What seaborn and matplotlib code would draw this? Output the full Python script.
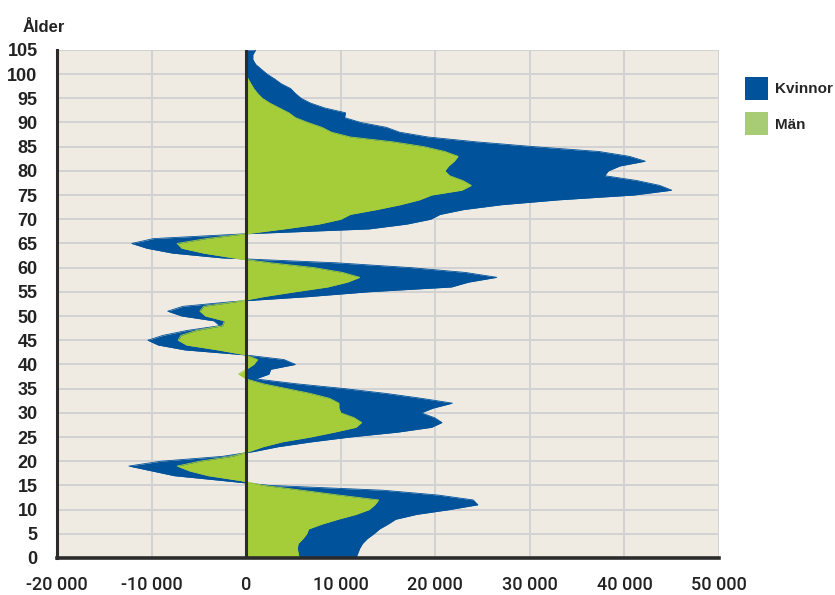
import numpy as np
import pandas as pd
import matplotlib
matplotlib.use("Agg")
import matplotlib.pyplot as plt
from matplotlib.patches import Patch
import seaborn as sns

# ------------------ Data ------------------
ages = list(range(0, 106))

man = [5600, 5500, 5400, 5500, 6000, 6400, 6600, 8000, 9700, 11600,
       13000, 13600, 14000, 9800, 5900, 1800, -600, -4000, -6000, -7300,
       -4900, -1500, 300, 1800, 3800, 6800, 9300, 11600, 12200, 11400,
       10000, 9800, 9800, 8800, 6800, 4300, 1800, 0, -800, 0,
       800, 1200, -100, -3000, -6300, -7200, -6900, -5300, -2500, -2300,
       -4300, -4900, -4500, -900, 1800, 5100, 8600, 10700, 12000, 10200,
       7200, 2600, -1300, -4500, -6800, -7300, -4200, 0, 4000, 7700,
       10000, 11000, 13800, 16300, 18300, 19600, 22800, 23800, 22900, 21500,
       21000, 21400, 22000, 22400, 21000, 18800, 15500, 11000, 9000, 8000,
       6500, 5200, 4500, 3500, 2500, 1700, 1200, 800, 500, 200,
       0, 0, 0, 0, 0, 0]

kvinnor = [6000, 6300, 6600, 6800, 6800, 7100, 7500, 7000, 6100, 6400,
           8500, 10900, 10000, 10500, 8600, 700, -1900, -3600, -4000, -5100,
           -4100, -1000, 500, 1600, 3100, 4200, 6700, 8000, 8500, 8500,
           8500, 10000, 12000, 9700, 8000, 6100, 3500, 1000, 3200, 2600,
           4400, 2800, -200, -3500, -3000, -3200, -1900, -1000, -300, -1100,
           -2500, -3400, -2200, -400, 4700, 7800, 13100, 12800, 14500, 13000,
           10200, 6900, -1200, -3300, -3700, -4800, -5600, 0, 9000, 9300,
           9500, 9500, 9200, 10700, 14700, 21400, 22200, 19900, 18400, 16400,
           17300, 18100, 20200, 18100, 16300, 11600, 8800, 8200, 7200, 6800,
           5600, 5200, 6000, 4800, 4300, 4100, 4000, 3900, 3200, 2800,
           2200, 1600, 1000, 700, 700, 1000]

x_ticks = [-20000, -10000, 0, 10000, 20000, 30000, 40000, 50000]
x_labels = ["-20 000", "-10 000", "0", "10 000", "20 000", "30 000", "40 000", "50 000"]
y_ticks = list(range(0, 106, 5))

df = pd.DataFrame({"age": ages, "Män": man, "Kvinnor": kvinnor})
df["total"] = df["Män"] + df["Kvinnor"]

blue = "#00529b"
green = "#a5cd39"
green_legend = "#a8cb76"

# ------------------ Plot ------------------
sns.set_style("whitegrid")
plt.rcParams["font.family"] = ["Liberation Sans", "DejaVu Sans"]

fig = plt.figure(figsize=(8.35, 5.95), dpi=100)
ax = fig.add_axes([0.0683, 0.0622, 0.7928, 0.854])
ax.set_facecolor("#efebe2")

ax.fill_betweenx(df["age"], 0, df["total"], color=blue, linewidth=0, zorder=2)
ax.fill_betweenx(df["age"], 0, df["Män"], color=green, linewidth=0, zorder=3)
sns.lineplot(x=df["total"], y=df["age"], orient="y", sort=False, color=blue,
             linewidth=0.6, ax=ax, zorder=2)
sns.lineplot(x=df["Män"], y=df["age"], orient="y", sort=False, color=green,
             linewidth=0.6, ax=ax, zorder=3)

ax.axvline(0, color="#2b2b2b", linewidth=2.2, zorder=5)

ax.set_xlim(-20000, 50000)
ax.set_ylim(0, 105)
ax.set_xticks(x_ticks)
ax.set_xticklabels(x_labels)
ax.set_yticks(y_ticks)
ax.grid(True, color="#d2d2d2", linewidth=1.4)
ax.set_axisbelow(True)
ax.set_xlabel("")
ax.set_ylabel("")

for s in ["top", "right"]:
    ax.spines[s].set_visible(False)
ax.spines["left"].set_color("#2b2b2b")
ax.spines["left"].set_linewidth(2.2)
ax.spines["bottom"].set_color("#2b2b2b")
ax.spines["bottom"].set_linewidth(2.6)
ax.spines["left"].set_zorder(6)
ax.spines["bottom"].set_zorder(6)

ax.tick_params(axis="x", length=0, pad=13, labelsize=13, labelcolor="#222222")
ax.tick_params(axis="y", length=0, pad=14, labelsize=13, labelcolor="#222222")
for lab in ax.get_xticklabels():
    lab.set_family(["Roboto", "Liberation Sans"])
    lab.set_fontweight("medium")
for lab in ax.get_yticklabels():
    lab.set_fontweight("bold")

fig.text(0.027, 0.953, "Ålder", fontsize=12, fontweight="bold", color="#222222",
         ha="left", va="center")

handles = [Patch(facecolor=blue, edgecolor="none", label="Kvinnor"),
           Patch(facecolor=green_legend, edgecolor="none", label="Män")]
fig.legend(handles=handles, loc="upper left", bbox_to_anchor=(0.892, 0.871),
           frameon=False, handlelength=1.5, handleheight=1.92,
           handletextpad=0.45, labelspacing=0.83, borderpad=0, borderaxespad=0,
           prop={"weight": "bold", "size": 11})

fig.savefig("out.png", dpi=100)
